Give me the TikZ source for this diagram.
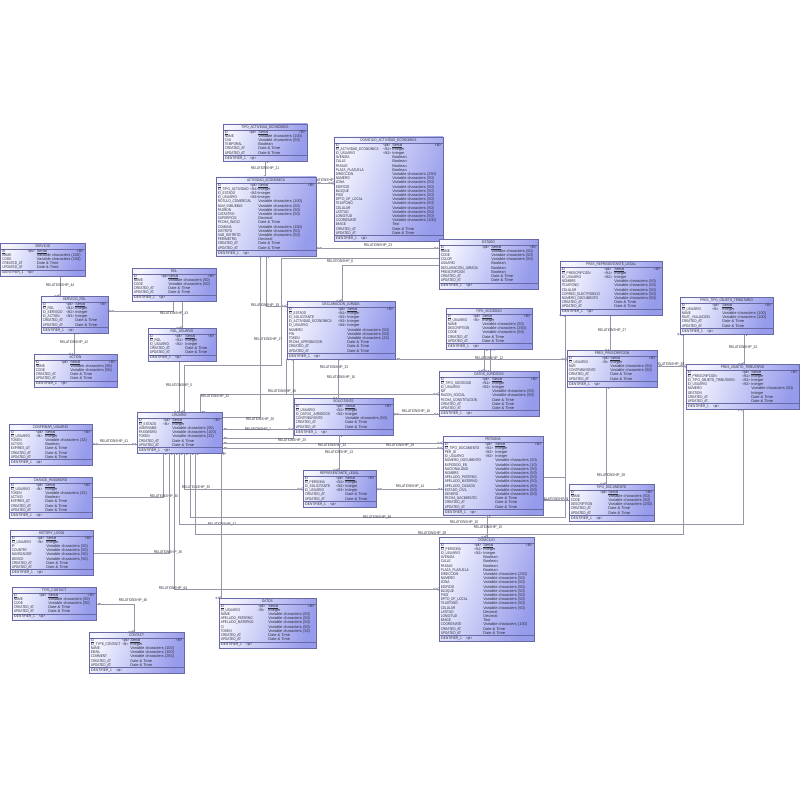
\documentclass[tikz,border=0pt]{standalone}
\usepackage{fontspec}
\setmainfont{Liberation Sans}
\newfontfamily\nf[FakeStretch=0.8]{Liberation Sans}
\usetikzlibrary{calc,decorations.markings}
\definecolor{boxL}{RGB}{244,245,255}
\definecolor{boxR}{RGB}{150,155,235}
\definecolor{boxD}{RGB}{105,105,165}
\definecolor{lnc}{RGB}{150,150,168}
\definecolor{txtc}{RGB}{45,45,60}
\pgfdeclarelayer{bg}
\pgfsetlayers{bg,main}
\newcommand\ul[1]{\setbox0=\hbox{#1}\rlap{\vrule width\wd0 height -0.32pt depth 0.47pt}\box0}
\tikzset{
  entbox/.style={draw=boxD, line width=0.35pt, anchor=north west, inner sep=0pt, outer sep=0pt,
    left color=boxL, right color=boxR, shading angle=70},
  entln/.style={draw=boxD, line width=0.3pt},
  enttxt/.style={anchor=west, inner sep=0pt, text=txtc, font=\nf\fontsize{2.8}{3}\selectfont,
    text height=1.9pt, text depth=0.5pt},
  typtxt/.style={enttxt, font=\fontsize{2.8}{3}\selectfont},
  rel/.style={draw=lnc, line width=0.35pt},
  lbl/.style={inner sep=0.3pt, text=txtc, font=\nf\fontsize{2.8}{3}\selectfont},
  crowE/.pic={\draw[lnc, line width=0.3pt] (-3.2,0) -- (0,1.6) (-3.2,0) -- (0,-1.6) (-3.2,0) -- (0,0);
              \draw[lnc, line width=0.3pt, fill=white] (-4.6,0) circle (0.9);},
  crowS/.pic={\draw[lnc, line width=0.3pt] (3.2,0) -- (0,1.6) (3.2,0) -- (0,-1.6) (3.2,0) -- (0,0);
              \draw[lnc, line width=0.3pt, fill=white] (4.6,0) circle (0.9);},
  oneE/.pic={\draw[lnc, line width=0.3pt] (-2,1.3) -- (-2,-1.3);
             \draw[lnc, line width=0.3pt, fill=white] (-3.8,0) circle (0.9);},
  oneS/.pic={\draw[lnc, line width=0.3pt] (2,1.3) -- (2,-1.3);
             \draw[lnc, line width=0.3pt, fill=white] (3.8,0) circle (0.9);},
  c1/.style={rel, postaction={decorate, decoration={markings,
      mark=at position 0.05pt with {\pic{oneS};}, mark=at position -0.05pt with {\pic{crowE};}}}},
  c0/.style={rel, postaction={decorate, decoration={markings,
      mark=at position 0.05pt with {\pic{crowS};}, mark=at position -0.05pt with {\pic{oneE};}}}}
}
\newcount\entn
\newcommand\ent[8]{%
  \global\entn=0
  \foreach \a/\b/\c in {#8}{\global\advance\entn by 1}%
  \pgfmathsetmacro\enth{12+4.2*\the\entn}%
  \node[entbox, minimum width={(#4-#2)*0.025cm}, minimum height={\enth*0.025cm}] (#1) at (#2,#3) {};
  \node[enttxt, anchor=center] at ({(#2+#4)/2},{#3+3.1}) {#7};
  \draw[entln] (#2,#3+6) -- (#4,#3+6);
  \foreach \a/\b/\c [count=\i] in {#8}{%
    \pgfmathsetmacro\yy{#3+6+(\i-0.5)*4.2}
    \node[enttxt] at (#2+1.5,\yy) {\a};
    \node[enttxt] at (#2+#5,\yy) {\b};
    \node[typtxt] at (#2+#6,\yy) {\c};
  }%
  \node[enttxt, anchor=east] at (#4-1.5,{#3+8.1}) {<M>};
  \draw[entln] (#2,{#3+\enth-6}) -- (#4,{#3+\enth-6});
  \node[enttxt] at (#2+1.5,{#3+\enth-3}) {IDENTIFIER\_1\hspace{3pt}<pi>};
}
\begin{document}
\catcode`\_=12
\begin{tikzpicture}[x=0.025cm,y=-0.025cm]
\useasboundingbox (0,0) rectangle (800,800);
% ---------------- entities ----------------
\ent{tipoact}{223}{124}{307}{26}{35}{TIPO_ACTIVIDAD_ECONOMICA}{\ul{ID}/<pk>/\ul{Serial},NAME//Variable characters (100),CIIU//Variable characters (50),TEMPORAL//Boolean,CREATED_AT//Date \& Time,UPDATED_AT//Date \& Time}
\ent{domact}{334}{137}{443}{49}{58}{DOMICILIO_ACTIVIDAD_ECONOMICA}{\ul{ID}/<pk>/\ul{Serial},ID_ACTIVIDAD_ECONOMICA/<fk1>/Integer,ID_USUARIO/<fk2>/Integer,AVENIDA//Boolean,CALLE//Boolean,PASAJE//Boolean,PLAZA_PLAZUELA//Boolean,DIRECCION//Variable characters (250),NUMERO//Variable characters (50),ZONA//Variable characters (50),EDIFICIO//Variable characters (50),BLOQUE//Variable characters (50),PISO//Variable characters (50),DPTO_OF_LOCAL//Variable characters (50),TELEFONO//Variable characters (50),CELULAR//Variable characters (50),LATITUD//Variable characters (50),LONGITUD//Variable characters (50),COORDINATE//Variable characters (100),IMAGE//Text,CREATED_AT//Date \& Time,UPDATED_AT//Date \& Time}
\ent{actividad}{216}{177}{316}{34}{42}{ACTIVIDAD_ECONOMICA}{\ul{ID}/<pk>/\ul{Serial},ID_TIPO_ACTIVIDAD/<fk1>/Integer,ID_ESTADO/<fk2>/Integer,ID_USUARIO/<fk3>/Integer,ROTULO_COMERCIAL//Variable characters (100),NUM_INMUEBLE//Variable characters (50),PADRON//Variable characters (50),CATASTRO//Variable characters (50),SUPERFICIE//Decimal,FECHA_INICIO//Date \& Time,COMUNA//Variable characters (100),DISTRITO//Variable characters (50),SUB_DISTRITO//Variable characters (50),PERIMETRO//Decimal,CREATED_AT//Date \& Time,UPDATED_AT//Date \& Time}
\ent{servicio}{0.5}{243}{85}{27}{36}{SERVICIO}{\ul{ID}/<pk>/\ul{Serial},NAME//Variable characters (100),CODE//Variable characters (100),CREATED_AT//Date \& Time,UPDATED_AT//Date \& Time}
\ent{rol}{132}{268}{216}{29}{36}{ROL}{\ul{ID}/<pk>/\ul{Serial},NAME//Variable characters (50),CODE//Variable characters (50),CREATED_AT//Date \& Time,UPDATED_AT//Date \& Time}
\ent{servrol}{41}{296}{108}{25}{34}{SERVICIO_ROL}{\ul{ID}/<pk>/\ul{Serial},ID_ROL/<fk1>/Integer,ID_SERVICIO/<fk2>/Integer,ID_ACTION/<fk3>/Integer,CREATED_AT//Date \& Time,UPDATED_AT//Date \& Time}
\ent{action}{34}{354}{117}{27}{36}{ACTION}{\ul{ID}/<pk>/\ul{Serial},NAME//Variable characters (50),CODE//Variable characters (50),CREATED_AT//Date \& Time,UPDATED_AT//Date \& Time}
\ent{rolusu}{148}{328}{216}{27}{37}{ROL_USUARIO}{\ul{ID}/<pk>/\ul{Serial},ID_ROL/<fk1>/Integer,ID_USUARIO/<fk2>/Integer,CREATED_AT//Date \& Time,UPDATED_AT//Date \& Time}
\ent{usuario}{137}{412}{222}{26}{35}{USUARIO}{\ul{ID}/<pk>/\ul{Serial},ID_ESTADO/<fk>/Integer,USERNAME//Variable characters (50),PASSWORD//Variable characters (100),TOKEN//Variable characters (32),CREATED_AT//Date \& Time,UPDATED_AT//Date \& Time}
\ent{confirmar}{9}{424}{92}{27}{36}{CONFIRMAR_USUARIO}{\ul{ID}/<pk>/\ul{Serial},ID_USUARIO/<fk>/Integer,TOKEN//Variable characters (32),ACTIVO//Boolean,EXPIRES_AT//Date \& Time,CREATED_AT//Date \& Time,UPDATED_AT//Date \& Time}
\ent{changepw}{9}{477}{92}{27}{36}{CHANGE_PASSWORD}{\ul{ID}/<pk>/\ul{Serial},ID_USUARIO/<fk>/Integer,TOKEN//Variable characters (32),ACTIVO//Boolean,EXPIRES_AT//Date \& Time,CREATED_AT//Date \& Time,UPDATED_AT//Date \& Time}
\ent{history}{10}{530}{93}{27}{36}{HISTORY_LOGIN}{\ul{ID}/<pk>/\ul{Serial},ID_USUARIO/<fk>/Integer,IP//Variable characters (50),COUNTRY//Variable characters (50),NAVEGADOR//Variable characters (50),DEVICE//Variable characters (50),CREATED_AT//Date \& Time,UPDATED_AT//Date \& Time}
\ent{typecontact}{12}{587}{96}{27}{36}{TYPE_CONTACT}{\ul{ID}/<pk>/\ul{Serial},NAME//Variable characters (50),CODE//Variable characters (50),CREATED_AT//Date \& Time,UPDATED_AT//Date \& Time}
\ent{contact}{89}{632}{184}{33}{41}{CONTACT}{\ul{ID}/<pk>/\ul{Serial},ID_TYPE_CONTACT/<fk>/Integer,NAME//Variable characters (100),EMAIL//Variable characters (100),COMMENT//Variable characters (255),CREATED_AT//Date \& Time,UPDATED_AT//Date \& Time}
\ent{datos}{219}{598}{316}{39}{49}{DATOS}{\ul{ID}/<pk>/\ul{Serial},ID_USUARIO/<fk>/Integer,NAME//Variable characters (50),APELLIDO_PATERNO//Variable characters (50),APELLIDO_MATERNO//Variable characters (50),CI//Variable characters (50),TOKEN//Variable characters (32),CREATED_AT//Date \& Time,UPDATED_AT//Date \& Time}
\ent{domicilio}{439}{537}{534}{35}{44}{DOMICILIO}{\ul{ID}/<pk>/\ul{Serial},ID_PERSONA/<fk1>/Integer,ID_USUARIO/<fk2>/Integer,AVENIDA//Boolean,CALLE//Boolean,PASAJE//Boolean,PLAZA_PLAZUELA//Boolean,DIRECCION//Variable characters (250),NUMERO//Variable characters (50),ZONA//Variable characters (50),EDIFICIO//Variable characters (50),BLOQUE//Variable characters (50),PISO//Variable characters (50),DPTO_OF_LOCAL//Variable characters (50),TELEFONO//Variable characters (50),CELULAR//Variable characters (50),LATITUD//Decimal,LONGITUD//Decimal,IMAGE//Text,COORDINATE//Variable characters (100),CREATED_AT//Date \& Time,UPDATED_AT//Date \& Time}
\ent{estado}{439}{239}{538}{43}{52}{ESTADO}{\ul{ID}/<pk>/\ul{Serial},NAME//Variable characters (50),CODE//Variable characters (50),COLOR//Variable characters (50),USUARIO//Boolean,DECLARACION_JURADA//Boolean,PRESCRIPCION//Boolean,CREATED_AT//Date \& Time,UPDATED_AT//Date \& Time}
\ent{dj}{287}{301}{395}{51}{60}{DECLARACION_JURADA}{\ul{ID}/<pk>/\ul{Serial},ID_ESTADO/<fk1>/Integer,ID_SOLICITANTE/<fk2>/Integer,ID_ACTIVIDAD_ECONOMICA/<fk3>/Integer,ID_USUARIO/<fk4>/Integer,NUMERO//Variable characters (50),PIN//Variable characters (50),TOKEN//Variable characters (32),FECHA_APROBACION//Date \& Time,CREATED_AT//Date \& Time,UPDATED_AT//Date \& Time}
\ent{tiposoc}{446}{308}{532}{27}{36}{TIPO_SOCIEDAD}{\ul{ID}/<pk>/\ul{Serial},ID_USUARIO/<fk>/Integer,NAME//Variable characters (50),DESCRIPTION//Variable characters (250),CODE//Variable characters (50),CREATED_AT//Date \& Time,UPDATED_AT//Date \& Time}
\ent{datjur}{439}{371}{539}{43}{53}{DATOS_JURIDICOS}{\ul{ID}/<pk>/\ul{Serial},ID_TIPO_SOCIEDAD/<fk1>/Integer,ID_USUARIO/<fk2>/Integer,NIT//Variable characters (50),RAZON_SOCIAL//Variable characters (50),FECHA_CONSTITUCION//Date \& Time,CREATED_AT//Date \& Time,UPDATED_AT//Date \& Time}
\ent{solicitante}{294}{398}{393}{42}{51}{SOLICITANTE}{\ul{ID}/<pk>/\ul{Serial},ID_USUARIO/<fk1>/Integer,ID_DATOS_JURIDICOS/<fk2>/Integer,CONTRIBUYENTE//Variable characters (50),CREATED_AT//Date \& Time,UPDATED_AT//Date \& Time}
\ent{replegal}{303}{470}{376}{33}{42}{REPRESENTANTE_LEGAL}{\ul{ID}/<pk>/\ul{Serial},ID_PERSONA/<fk1>/Integer,ID_SOLICITANTE/<fk2>/Integer,ID_USUARIO/<fk3>/Integer,CREATED_AT//Date \& Time,UPDATED_AT//Date \& Time}
\ent{persona}{443}{436}{543}{42}{52}{PERSONA}{\ul{ID}/<pk>/\ul{Serial},ID_TIPO_DOCUMENTO/<fk1>/Integer,PER_ID/<fk2>/Integer,ID_USUARIO/<fk3>/Integer,NUMERO_DOCUMENTO//Variable characters (50),EXPEDIDO_EN//Variable characters (10),NACIONALIDAD//Variable characters (50),NOMBRE//Variable characters (50),APELLIDO_PATERNO//Variable characters (50),APELLIDO_MATERNO//Variable characters (50),APELLIDO_CASADA//Variable characters (50),ESTADO_CIVIL//Variable characters (50),GENERO//Variable characters (50),FECHA_NACIMIENTO//Date \& Time,CREATED_AT//Date \& Time,UPDATED_AT//Date \& Time}
\ent{tipodoc}{569}{484}{654}{31}{39}{TIPO_DOCUMENTO}{\ul{ID}/<pk>/\ul{Serial},NAME//Variable characters (50),CODE//Variable characters (50),DESCRIPTION//Variable characters (250),CREATED_AT//Date \& Time,UPDATED_AT//Date \& Time}
\ent{presrep}{560}{261}{662}{44}{54}{PRES_REPRESENTANTE_LEGAL}{\ul{ID}/<pk>/\ul{Serial},ID_PRESCRIPCION/<fk1>/Integer,ID_USUARIO/<fk2>/Integer,NOMBRE//Variable characters (50),TELEFONO//Variable characters (50),CELULAR//Variable characters (50),CORREO_ELECTRONICO//Variable characters (50),NUMERO_DOCUMENTO//Variable characters (50),CREATED_AT//Date \& Time,UPDATED_AT//Date \& Time}
\ent{prespresc}{567}{350}{657}{35}{43}{PRES_PRESCRIPCION}{\ul{ID}/<pk>/\ul{Serial},ID_USUARIO/<fk>/Integer,NUR//Variable characters (50),CONTRIBUYENTE//Variable characters (50),CREATED_AT//Date \& Time,UPDATED_AT//Date \& Time}
\ent{prestipo}{680}{297}{773}{32}{42}{PRES_TIPO_OBJETO_TRIBUTARIO}{\ul{ID}/<pk>/\ul{Serial},ID_USUARIO/<fk>/Integer,NAME//Variable characters (100),RUAT_VALUACION//Variable characters (100),CREATED_AT//Date \& Time,UPDATED_AT//Date \& Time}
\ent{presobj}{686}{364}{799}{56}{65}{PRES_OBJETO_TRIBUTARIO}{\ul{ID}/<pk>/\ul{Serial},ID_PRESCRIPCION/<fk1>/Integer,ID_TIPO_OBJETO_TRIBUTARIO/<fk2>/Integer,ID_USUARIO/<fk3>/Integer,NUMERO//Variable characters (50),GESTION//Integer,CREATED_AT//Date \& Time,UPDATED_AT//Date \& Time}
% ---------------- connectors ----------------
\begin{pgfonlayer}{bg}
\fill[white] (0,0) rectangle (800,800);
\draw[c1] (tipoact.south) -- (tipoact.south |- actividad.north);
\node[lbl] (l21) at (265,169) {RELATIONSHIP_21};
\draw[c1] (actividad.east |- 0,183) -- (domact.west |- 0,183);
\node[lbl] (l22) at (325,181) {RELATIONSHIP_22};
\draw[c0] (actividad.east |- 0,248) -- (estado.west |- 0,248);
\node[lbl] (l23) at (378,245.5) {RELATIONSHIP_23};
\draw[c1] (estado.west |- 0,258) -- (281,258) -- (281,365) -- (184,365) -- (usuario.north -| 184,0);
\node[lbl] (l6) at (340,261.5) {RELATIONSHIP_6};
\node[lbl] (l17) at (268,340) {RELATIONSHIP_17};
\draw[c1] (estado.west |- 0,265) -- (342,265) -- (dj.north -| 342,0);
\draw[c1] (actividad.south -| 266,0) -- (266,306) -- (dj.west |- 0,306);
\node[lbl] (l19) at (265,306) {RELATIONSHIP_19};
\draw[c0] (actividad.south -| 260,0) -- (260,417) -- (usuario.east |- 0,417);
\node[lbl] (l20) at (260,419.5) {RELATIONSHIP_20};
\draw[c1] (usuario.east |- 0,429) -- (solicitante.west |- 0,429);
\node[lbl] (l7) at (258,429.5) {RELATIONSHIP_7};
\draw[c1] (usuario.east |- 0,438) -- (293,438) -- (dj.south -| 293,0);
\node[lbl] (l25) at (292,441) {RELATIONSHIP_25};
\draw[c0] (dj.south -| 338,0) -- (solicitante.north -| 338,0);
\node[lbl] (l16) at (341,378) {RELATIONSHIP_16};
\node[lbl] (l33) at (334,368) {RELATIONSHIP_33};
\draw[c1] (usuario.north -| 200,0) -- (200,394) -- (datjur.west |- 0,394);
\draw[rel] (dj.south -| 286,0) -- (286,394);
\node[lbl] (l32) at (215,397) {RELATIONSHIP_32};
\node[lbl] (l26) at (282,392) {RELATIONSHIP_26};
\draw[c0] (solicitante.east |- 0,414) -- (datjur.west |- 0,414);
\node[lbl] (l18) at (416,412) {RELATIONSHIP_18};
\draw[c1] (usuario.east |- 0,443) -- (persona.west |- 0,443);
\node[lbl] (l34) at (332,446) {RELATIONSHIP_34};
\draw[c1] (usuario.east |- 0,448) -- (persona.west |- 0,448);
\node[lbl] (l29) at (400,446) {RELATIONSHIP_29};
\draw[c1] (solicitante.south -| 339,0) -- (replegal.north -| 339,0);
\node[lbl] (l13) at (339,453) {RELATIONSHIP_13};
\draw[c0] (replegal.east |- 0,489) -- (persona.west |- 0,489);
\node[lbl] (l14) at (410,487) {RELATIONSHIP_14};
\draw[c1] (usuario.south -| 184,0) -- (184,489) -- (replegal.west |- 0,489);
\node[lbl] (l35) at (196,488) {RELATIONSHIP_35};
\draw[c1] (tiposoc.south -| 484,0) -- (datjur.north -| 484,0);
\draw[c0] (tiposoc.south -| 490,0) -- (datjur.north -| 490,0);
\draw[c1] (dj.east |- 0,359) -- (prespresc.west |- 0,359);
\node[lbl] (l12) at (489,359) {RELATIONSHIP_12};
\draw[c1] (servicio.south -| 60,0) -- (servrol.north -| 60,0);
\node[lbl] (l44) at (60,286) {RELATIONSHIP_44};
\draw[c0] (servrol.south -| 74,0) -- (action.north -| 74,0);
\node[lbl] (l42) at (74,343) {RELATIONSHIP_42};
\draw[c0] (servrol.east |- 0,311) -- (173,311) -- (rol.south -| 173,0);
\node[lbl] (l43) at (174,314) {RELATIONSHIP_43};
\draw[c1] (rol.south -| 182,0) -- (rolusu.north -| 182,0);
\draw[c0] (rolusu.south -| 179,0) -- (usuario.north -| 179,0);
\node[lbl] (l5) at (179,386) {RELATIONSHIP_5};
\draw[c0] (confirmar.east |- 0,444) -- (usuario.west |- 0,444);
\node[lbl] (l41) at (114,442) {RELATIONSHIP_41};
\draw[c1] (usuario.south -| 163,0) -- (163,497) -- (changepw.east |- 0,497);
\node[lbl] (l40) at (164,497) {RELATIONSHIP_40};
\draw[c1] (usuario.south -| 169,0) -- (169,553) -- (history.east |- 0,553);
\node[lbl] (l36) at (168,553) {RELATIONSHIP_36};
\draw[c1] (usuario.south -| 174,0) -- (174,589) -- (domicilio.west |- 0,589);
\node[lbl] (l64) at (173,589) {RELATIONSHIP_64};
\draw[c1] (typecontact.east |- 0,604) -- (134,604) -- (contact.north -| 134,0);
\node[lbl] (l46) at (133,601) {RELATIONSHIP_46};
\draw[c1] (usuario.south -| 221,0) -- (datos.north -| 221,0);
\node[lbl] (l47) at (222,525) {RELATIONSHIP_47};
\draw[c1] (usuario.south -| 190,0) -- (190,517) -- (565,517) -- (presrep.south -| 565,0);
\draw[rel] (persona.east |- 0,477) -- (565,477);
\node[lbl] (l39) at (377,518) {RELATIONSHIP_39};
\draw[c1] (usuario.south -| 179,0) -- (179,524) -- (743,524) -- (presobj.south -| 743,0);
\node[lbl] (l10) at (464,523) {RELATIONSHIP_10};
\draw[c1] (usuario.south -| 195,0) -- (195,534) -- (683,534) -- (prestipo.south -| 683,0);
\node[lbl] (l38) at (432,534) {RELATIONSHIP_38};
\draw[c1] (persona.south -| 487,0) -- (domicilio.north -| 487,0);
\node[lbl] (l15) at (488,528) {RELATIONSHIP_15};
\draw[c0] (persona.east |- 0,500) -- (tipodoc.west |- 0,500);
\node[lbl] (l9) at (555,500) {RELATIONSHIP_9};
\draw[c0] (presrep.south -| 610,0) -- (prespresc.north -| 610,0);
\node[lbl] (l27) at (612,331) {RELATIONSHIP_27};
\draw[c1] (prespresc.east |- 0,366) -- (presobj.west |- 0,366);
\node[lbl] (l30) at (670,365) {RELATIONSHIP_30};
\draw[c1] (prestipo.south -| 744,0) -- (presobj.north -| 744,0);
\node[lbl] (l24) at (743,348) {RELATIONSHIP_24};
\draw[c1] (prespresc.south -| 606,0) -- (tipodoc.north -| 606,0);
\node[lbl] (l28) at (611,476) {RELATIONSHIP_28};
\end{pgfonlayer}
\end{tikzpicture}
\end{document}
